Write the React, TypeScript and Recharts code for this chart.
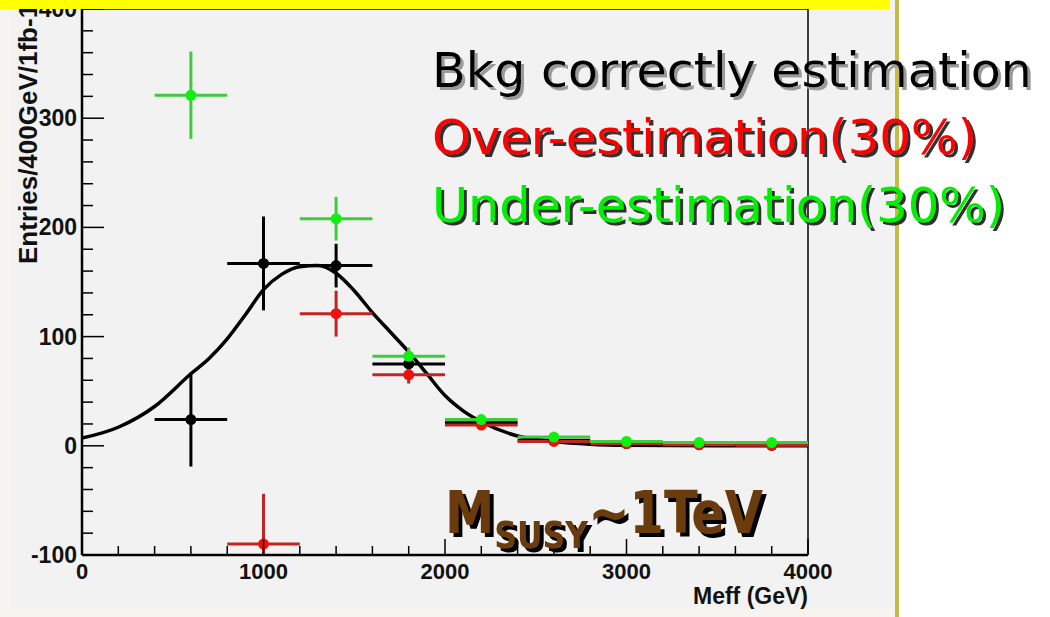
import React from "react";
import {
  ComposedChart,
  Line,
  Scatter,
  ErrorBar,
  XAxis,
  YAxis,
  ReferenceLine,
} from "recharts";

// bin centres in Meff (GeV), bin width 400 GeV; ey may be [down, up]
const correctBkg = [
  { x: 600, y: 24, ex: 200, ey: 43 },
  { x: 1000, y: 167, ex: 200, ey: 43 },
  { x: 1400, y: 165, ex: 200, ey: 20 },
  { x: 1800, y: 75, ex: 200, ey: 8 },
  { x: 2200, y: 21, ex: 200, ey: 3 },
  { x: 2600, y: 5, ex: 200, ey: 1 },
  { x: 3000, y: 2, ex: 200, ey: 1 },
  { x: 3400, y: 1, ex: 200, ey: 0 },
  { x: 3800, y: 0.5, ex: 200, ey: 0 },
];

const overEstimation = [
  { x: 1000, y: -90, ex: 200, ey: [10, 46] },
  { x: 1400, y: 121, ex: 200, ey: 21 },
  { x: 1800, y: 65, ex: 200, ey: 8 },
  { x: 2200, y: 19, ex: 200, ey: 3 },
  { x: 2600, y: 4, ex: 200, ey: 1 },
  { x: 3000, y: 2, ex: 200, ey: 1 },
  { x: 3400, y: 1, ex: 200, ey: 0 },
  { x: 3800, y: 0.5, ex: 200, ey: 0 },
];

const underEstimation = [
  { x: 600, y: 321, ex: 200, ey: 40 },
  { x: 1400, y: 208, ex: 200, ey: 20 },
  { x: 1800, y: 82, ex: 200, ey: 8 },
  { x: 2200, y: 24, ex: 200, ey: 3 },
  { x: 2600, y: 8, ex: 200, ey: 1 },
  { x: 3000, y: 4, ex: 200, ey: 1 },
  { x: 3400, y: 3, ex: 200, ey: 0 },
  { x: 3800, y: 3, ex: 200, ey: 0 },
];

// fitted curve
const fitCurve = [
  { x: 0, y: 7 },
  { x: 200, y: 17 },
  { x: 400, y: 36 },
  { x: 600, y: 66 },
  { x: 700, y: 80 },
  { x: 800, y: 98 },
  { x: 900, y: 120 },
  { x: 1000, y: 143 },
  { x: 1100, y: 157 },
  { x: 1200, y: 164 },
  { x: 1300, y: 165 },
  { x: 1400, y: 158 },
  { x: 1500, y: 142 },
  { x: 1600, y: 122 },
  { x: 1700, y: 104 },
  { x: 1800, y: 86 },
  { x: 1900, y: 66 },
  { x: 2000, y: 46 },
  { x: 2100, y: 32 },
  { x: 2200, y: 22 },
  { x: 2400, y: 9 },
  { x: 2600, y: 4 },
  { x: 2800, y: 1.5 },
  { x: 3000, y: 0.5 },
  { x: 3500, y: 0 },
  { x: 4000, y: 0 },
];

const xTicks = [0, 200, 400, 600, 800, 1000, 1200, 1400, 1600, 1800, 2000, 2200, 2400, 2600, 2800, 3000, 3200, 3400, 3600, 3800, 4000];
const yTicks = [-100, -80, -60, -40, -20, 0, 20, 40, 60, 80, 100, 120, 140, 160, 180, 200, 220, 240, 260, 280, 300, 320, 340, 360, 380, 400];

const legendLines = [
  { text: "Bkg correctly estimation", color: "#000000", y: 87, len: 600 },
  { text: "Over-estimation(30%)", color: "#ff0000", y: 154, len: 545 },
  { text: "Under-estimation(30%)", color: "#00ee00", y: 222, len: 573 },
];

const tickFont = "'Liberation Sans', Arial, sans-serif";

const XTick = (props: any) => {
  const { x, y, payload } = props;
  const major = payload.value % 1000 === 0;
  return (
    <g>
      <line x1={x} x2={x} y1={y} y2={y - (major ? 16 : 9)} stroke="#000" strokeWidth={1.5} />
      {major && (
        <text x={x} y={y + 24} textAnchor="middle" fontFamily={tickFont} fontWeight="bold" fontSize={22} fill="#111">
          {payload.value}
        </text>
      )}
    </g>
  );
};

const YTick = (props: any) => {
  const { x, y, payload } = props;
  const major = payload.value % 100 === 0;
  return (
    <g>
      <line x1={x} x2={x + (major ? 22 : 11)} y1={y} y2={y} stroke="#000" strokeWidth={1.5} />
      {major && (
        <text x={x - 5} y={y + 8} textAnchor="end" fontFamily={tickFont} fontWeight="bold" fontSize={23} fill="#111">
          {payload.value}
        </text>
      )}
    </g>
  );
};

const makeDot = (color: string) => (props: any) => (
  <circle cx={props.cx} cy={props.cy} r={5.5} fill={color} />
);

export default function App() {
  return (
    <div style={{ position: "absolute", left: 0, top: 0, width: 1050, height: 617, background: "#ffffff", overflow: "hidden" }}>
      <div style={{ position: "absolute", left: 0, top: 0, width: 896, height: 617, background: "#f5f4ee" }} />
      <div style={{ position: "absolute", left: 10, top: 0, width: 884, height: 607, background: "#f2f2f2" }} />
      <div style={{ position: "absolute", left: 895, top: 0, width: 4, height: 617, background: "#c3bd45" }} />
      <div style={{ position: "absolute", left: 0, top: 0 }}>
        <ComposedChart width={1050} height={617} margin={{ top: 9, right: 242, bottom: 0, left: 0 }}>
          <XAxis
            type="number"
            dataKey="x"
            domain={[0, 4000]}
            ticks={xTicks}
            interval={0}
            allowDataOverflow
            height={62}
            tickSize={0}
            tickMargin={0}
            tickLine={false}
            axisLine={{ stroke: "#000", strokeWidth: 2.5 }}
            tick={<XTick />}
          />
          <YAxis
            type="number"
            dataKey="y"
            domain={[-100, 400]}
            ticks={yTicks}
            interval={0}
            allowDataOverflow
            width={82}
            tickSize={0}
            tickMargin={0}
            tickLine={false}
            axisLine={{ stroke: "#000", strokeWidth: 2.5 }}
            tick={<YTick />}
          />
          <ReferenceLine y={400} stroke="#000" strokeWidth={1.5} />
          <ReferenceLine x={4000} stroke="#000" strokeWidth={1.5} />
          <Line
            data={fitCurve}
            dataKey="y"
            type="monotone"
            dot={false}
            stroke="#000"
            strokeWidth={3.5}
            isAnimationActive={false}
          />
          <Scatter data={correctBkg} dataKey="y" shape={makeDot("#000")} isAnimationActive={false}>
            <ErrorBar dataKey="ex" direction="x" width={0} stroke="#000" strokeWidth={3} />
            <ErrorBar dataKey="ey" direction="y" width={0} stroke="#000" strokeWidth={3} />
          </Scatter>
          <Scatter data={overEstimation} dataKey="y" shape={makeDot("#ee1111")} isAnimationActive={false}>
            <ErrorBar dataKey="ex" direction="x" width={0} stroke="#c02424" strokeWidth={3} />
            <ErrorBar dataKey="ey" direction="y" width={0} stroke="#c02424" strokeWidth={3} />
          </Scatter>
          <Scatter data={underEstimation} dataKey="y" shape={makeDot("#11ee11")} isAnimationActive={false}>
            <ErrorBar dataKey="ex" direction="x" width={0} stroke="#3ccc3c" strokeWidth={3} />
            <ErrorBar dataKey="ey" direction="y" width={0} stroke="#3ccc3c" strokeWidth={3} />
          </Scatter>
        </ComposedChart>
      </div>
      <svg width={1050} height={617} style={{ position: "absolute", left: 0, top: 0, pointerEvents: "none" }}>
        <defs>
          <filter id="shGray" x="-5%" y="-20%" width="110%" height="140%">
            <feDropShadow dx="3" dy="3" stdDeviation="0.6" floodColor="#9a9a9a" />
          </filter>
          <filter id="shDark" x="-5%" y="-20%" width="110%" height="140%">
            <feDropShadow dx="3" dy="3" stdDeviation="0.6" floodColor="#333333" />
          </filter>
          <filter id="shBlack" x="-5%" y="-20%" width="110%" height="140%">
            <feDropShadow dx="4" dy="4" stdDeviation="0.4" floodColor="#000000" />
          </filter>
        </defs>
        <text
          transform="translate(37,264) rotate(-90)"
          fontFamily={tickFont}
          fontWeight="bold"
          fontSize={26}
          fill="#111"
        >
          Entries/400GeV/1fb-1
        </text>
        <text x={808} y={604} textAnchor="end" fontFamily={tickFont} fontWeight="bold" fontSize={23} fill="#111">
          Meff (GeV)
        </text>
        {legendLines.map((l, i) => (
          <text
            key={i}
            x={432}
            y={l.y}
            fontFamily="'DejaVu Sans', sans-serif"
            fontSize={48}
            fill={l.color}
            textLength={l.len}
            lengthAdjust="spacingAndGlyphs"
            filter={i === 0 ? "url(#shGray)" : "url(#shDark)"}
          >
            {l.text}
          </text>
        ))}
        <text
          x={445}
          y={533}
          fontFamily="'DejaVu Sans', sans-serif"
          fontWeight="bold"
          fill="#6a3a08"
          filter="url(#shBlack)"
          textLength={318}
          lengthAdjust="spacingAndGlyphs"
        >
          <tspan fontSize={58}>M</tspan>
          <tspan fontSize={37} dy={15}>SUSY</tspan>
          <tspan fontSize={58} dy={-15}>~1TeV</tspan>
        </text>
        <rect x={0} y={0} width={890} height={9} fill="#ffff00" />
      </svg>
    </div>
  );
}
